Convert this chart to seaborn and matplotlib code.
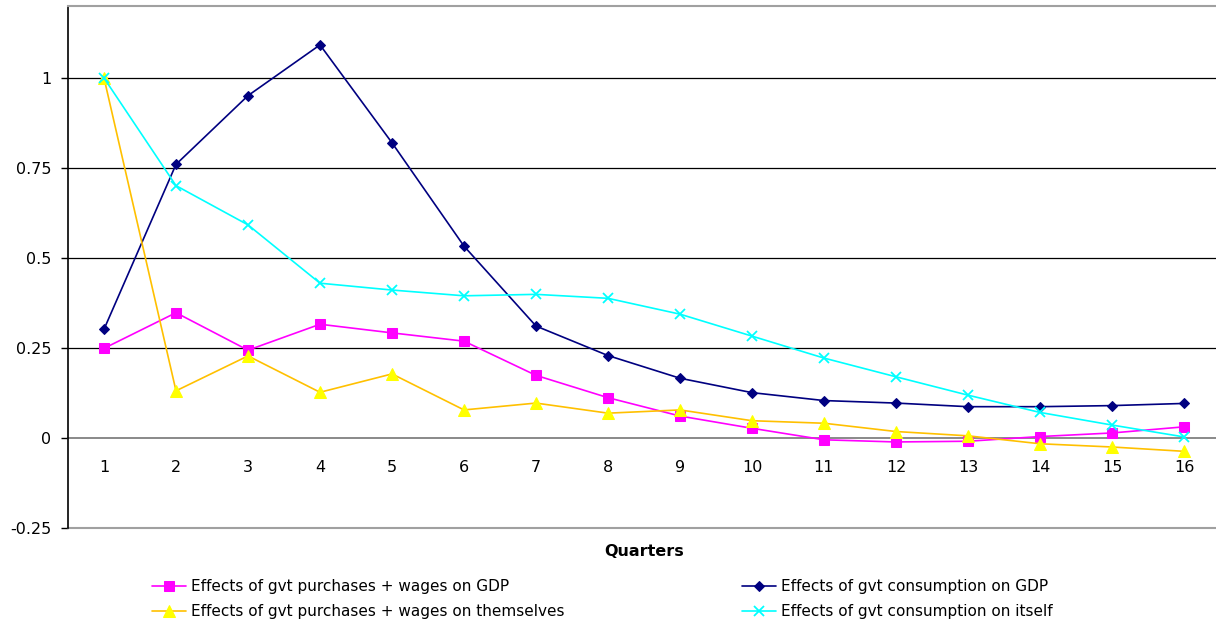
import numpy as np
import pandas as pd
import seaborn as sns
import matplotlib
matplotlib.use("Agg")
import matplotlib.pyplot as plt
from matplotlib.ticker import FixedLocator, FuncFormatter

sns.set_style("white")
plt.rcParams["font.family"] = ["DejaVu Sans"]
plt.rcParams["text.color"] = "#000000"

# Impulse responses by quarter
quarters = list(range(1, 17))
gdp_purch_wages = [0.249, 0.348, 0.244, 0.316, 0.292, 0.269, 0.174, 0.112,
                   0.061, 0.027, -0.005, -0.011, -0.009, 0.004, 0.014, 0.031]
own_purch_wages = [1.0, 0.131, 0.228, 0.127, 0.178, 0.078, 0.097, 0.069,
                   0.078, 0.048, 0.041, 0.018, 0.006, -0.016, -0.025, -0.037]
gdp_consumption = [0.302, 0.760, 0.951, 1.092, 0.820, 0.533, 0.311, 0.229,
                   0.166, 0.126, 0.104, 0.097, 0.087, 0.087, 0.090, 0.096]
own_consumption = [1.0, 0.701, 0.592, 0.430, 0.411, 0.395, 0.399, 0.388,
                   0.344, 0.283, 0.222, 0.170, 0.119, 0.071, 0.036, 0.003]

labels = ["Effects of gvt purchases + wages on GDP",
          "Effects of gvt consumption on GDP",
          "Effects of gvt purchases + wages on themselves",
          "Effects of gvt consumption on itself"]
y_ticks = [-0.25, 0, 0.25, 0.5, 0.75, 1]

fig = plt.figure(figsize=(12.16, 6.22), dpi=100)
ax = fig.add_axes([68 / 1216, 1 - 528 / 622, 1152 / 1216, 522 / 622])

series = [
    (gdp_purch_wages, labels[0], dict(color="#FF00FF", marker="s", markersize=7,
                                      markerfacecolor="#FF00FF", markeredgecolor="#FF00FF")),
    (gdp_consumption, labels[1], dict(color="#000080", marker="D", markersize=5.5,
                                      markerfacecolor="#000080", markeredgecolor="#000080")),
    (own_purch_wages, labels[2], dict(color="#FFC000", marker="^", markersize=8,
                                      markerfacecolor="#FFFF00", markeredgecolor="#FFFF00")),
    (own_consumption, labels[3], dict(color="#00FFFF", marker="x", markersize=7,
                                      markeredgewidth=1.3, markeredgecolor="#00FFFF")),
]

for vals, lab, style in series:
    df = pd.DataFrame({"Quarter": quarters, "Effect": vals})
    sns.lineplot(data=df, x="Quarter", y="Effect", ax=ax, linewidth=1.2,
                 label=lab, zorder=3, **style)
h, l = ax.get_legend_handles_labels()
ax.get_legend().remove()

ax.set_xlim(0.5, 16.5)
ax.set_ylim(-0.25, 1.2)

# horizontal gridlines
for yv in [0.25, 0.5, 0.75, 1.0]:
    ax.axhline(yv, color="#000000", lw=0.9, zorder=1)
ax.axhline(-0.25, color="#A0A0A0", lw=1.5, zorder=1, clip_on=False)

# spines
ax.spines["right"].set_visible(False)
ax.spines["top"].set_color("#A0A0A0")
ax.spines["top"].set_linewidth(1.5)
ax.spines["left"].set_color("#000000")
ax.spines["left"].set_linewidth(1.2)
ax.spines["bottom"].set_position(("data", 0))
ax.spines["bottom"].set_color("#808080")
ax.spines["bottom"].set_linewidth(1.3)
ax.spines["bottom"].set_zorder(2)

# x axis: category labels, tick marks between categories
ax.xaxis.set_major_locator(FixedLocator(quarters))
ax.xaxis.set_minor_locator(FixedLocator([q + 0.5 for q in quarters[:-1]]))
ax.tick_params(axis="x", which="major", length=0, pad=16, labelsize=11.5, labelcolor="#000000")
ax.tick_params(axis="x", which="minor", length=5, width=1, color="#404040", direction="out")
ax.xaxis.set_major_formatter(FuncFormatter(lambda v, p: f"{int(v)}"))

# y axis
ax.yaxis.set_major_locator(FixedLocator(y_ticks))
ax.yaxis.set_major_formatter(FuncFormatter(lambda v, p: f"{v:g}"))
ax.tick_params(axis="y", length=5, width=1, color="#000000", direction="out",
               pad=7, labelsize=11.5, labelcolor="#000000", left=True)
ax.set_xlabel("")
ax.set_ylabel("")

fig.text(644 / 1216, 1 - 552 / 622, "Quarters", ha="center", va="center",
         fontsize=11.5, fontweight="bold", color="#000000")

leg_kw = dict(frameon=False, fontsize=11, handlelength=2.2, handletextpad=0.35,
              labelspacing=0.65, borderpad=0, borderaxespad=0, loc="upper left",
              labelcolor="#000000")
fig.legend([h[0], h[2]], [l[0], l[2]],
           bbox_to_anchor=(152 / 1216, 1 - 579 / 622), **leg_kw)
fig.legend([h[1], h[3]], [l[1], l[3]],
           bbox_to_anchor=(742 / 1216, 1 - 579 / 622), **leg_kw)

fig.savefig("out.png", dpi=100)
